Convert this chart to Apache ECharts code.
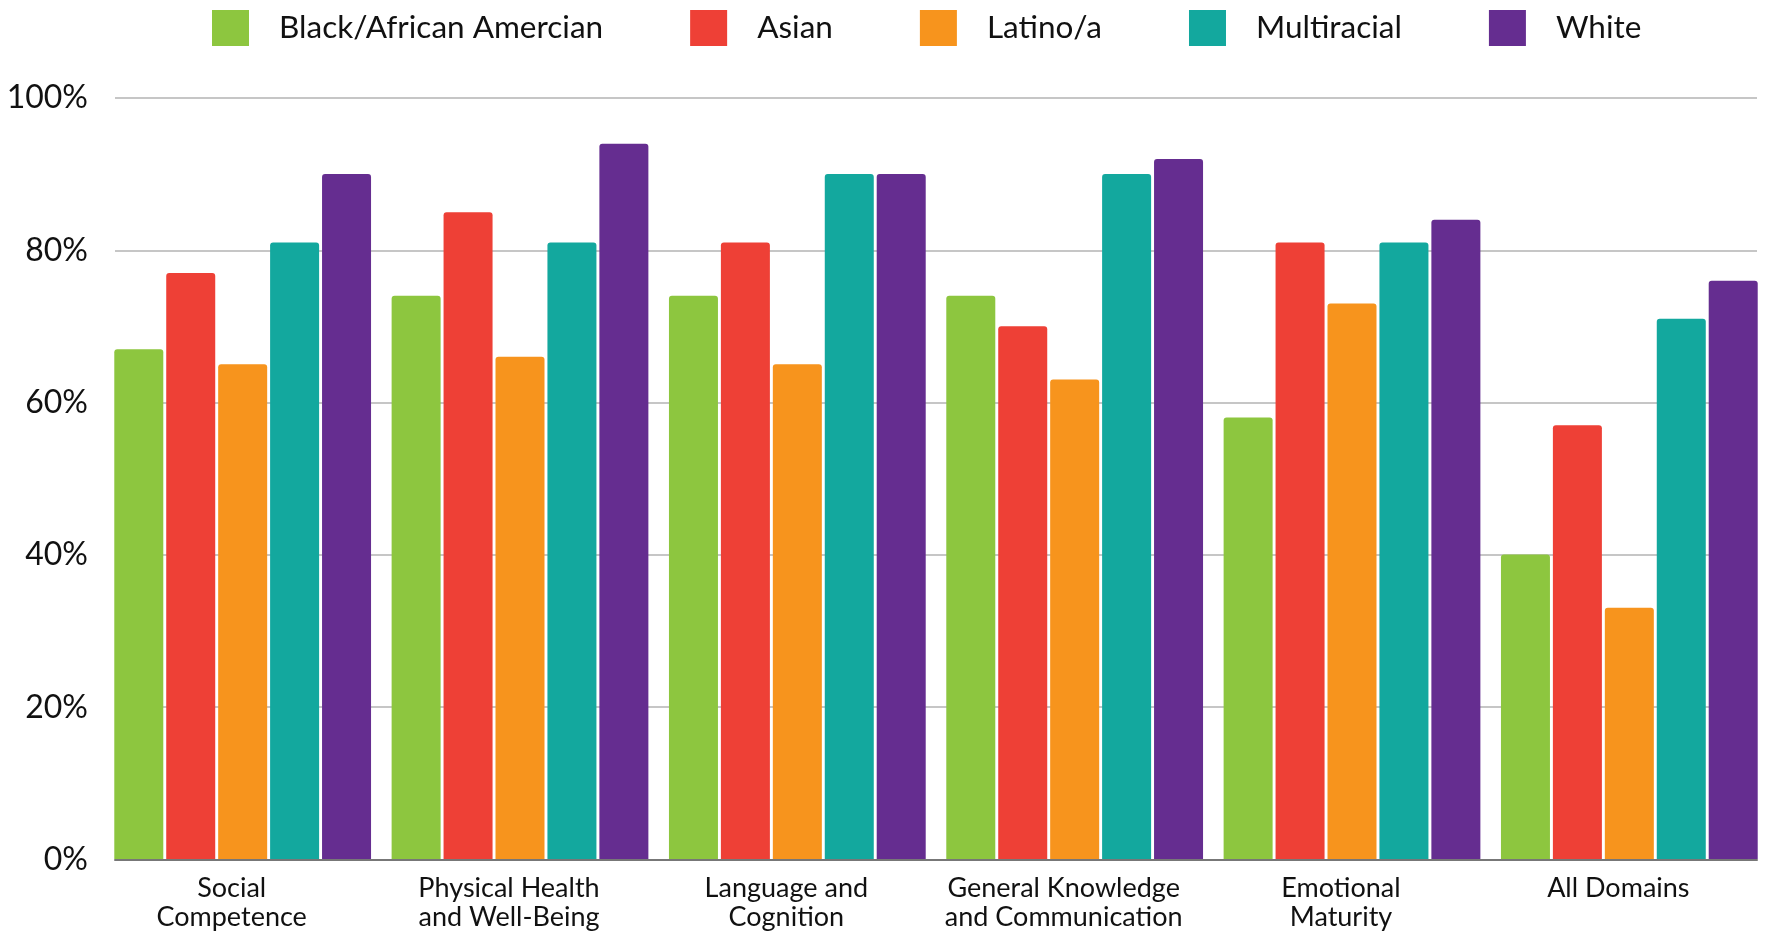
<!DOCTYPE html>
<html>
<head>
<meta charset="utf-8">
<script src="https://cdn.jsdelivr.net/npm/echarts@6/dist/echarts.min.js"></script>
<style>
html,body{margin:0;padding:0;background:#fff;}
#chart{width:1768px;height:932px;}
</style>
</head>
<body>
<div id="chart"></div>
<script>
const categories = ['Social\nCompetence', 'Physical Health\nand Well-Being', 'Language and\nCognition', 'General Knowledge\nand Communication', 'Emotional\nMaturity', 'All Domains'];
const seriesNames = ['Black/African Amercian', 'Asian', 'Latino/a', 'Multiracial', 'White'];
const black = [67, 74, 74, 74, 58, 40];
const asian = [77, 85, 81, 70, 81, 57];
const latino = [65, 66, 65, 63, 73, 33];
const multiracial = [81, 81, 90, 90, 81, 71];
const white = [90, 94, 90, 92, 84, 76];
const yTicks = [0, 20, 40, 60, 80, 100];
const colors = ['#8DC63F', '#EE4036', '#F7941D', '#13A89E', '#652D90'];
const seriesData = [black, asian, latino, multiracial, white];

const chart = echarts.init(document.getElementById('chart'), null, {renderer: 'canvas'});
const font = 'Lato, "Noto Sans", sans-serif';
chart.setOption({
  animation: false,
  color: colors,
  textStyle: {fontFamily: font},
  legend: {
    left: 207, top: 5,
    itemWidth: 37, itemHeight: 36, itemGap: 87,
    icon: 'rect',
    textStyle: {fontSize: 31.5, color: '#111', fontFamily: font, padding: [0, 0, 0, 25]},
    data: seriesNames
  },
  grid: [
    {left: 104, right: 0, top: 98, bottom: 72.5},
    {left: 115, right: 11, top: 98, bottom: 72.5}
  ],
  xAxis: [
    {
      type: 'category', gridIndex: 0, data: categories,
      axisLine: {show: false}, axisTick: {show: false},
      axisLabel: {fontSize: 27, lineHeight: 29, color: '#111', margin: 15, fontFamily: font, interval: 0, padding: [0, 22, 0, 0]}
    },
    {
      type: 'category', gridIndex: 1, data: categories,
      axisLine: {show: true, lineStyle: {color: '#777', width: 2}},
      axisTick: {show: false}, axisLabel: {show: false}
    }
  ],
  yAxis: [
    {type: 'value', gridIndex: 0, min: 0, max: 100, show: false, splitLine: {show: false}},
    {
      type: 'value', gridIndex: 1, min: yTicks[0], max: yTicks[yTicks.length - 1], interval: 20,
      axisLine: {show: false}, axisTick: {show: false},
      splitLine: {lineStyle: {color: '#C6C6C6', width: 2}},
      axisLabel: {fontSize: 32, color: '#111', margin: 27, fontFamily: font, formatter: '{value}%'}
    }
  ],
  series: seriesNames.map((name, i) => ({
    name: name,
    type: 'bar',
    xAxisIndex: 0, yAxisIndex: 0,
    data: seriesData[i],
    barWidth: 49,
    barGap: '6%',
    itemStyle: {color: colors[i], borderRadius: [3, 3, 0, 0]}
  }))
});
</script>
</body>
</html>
